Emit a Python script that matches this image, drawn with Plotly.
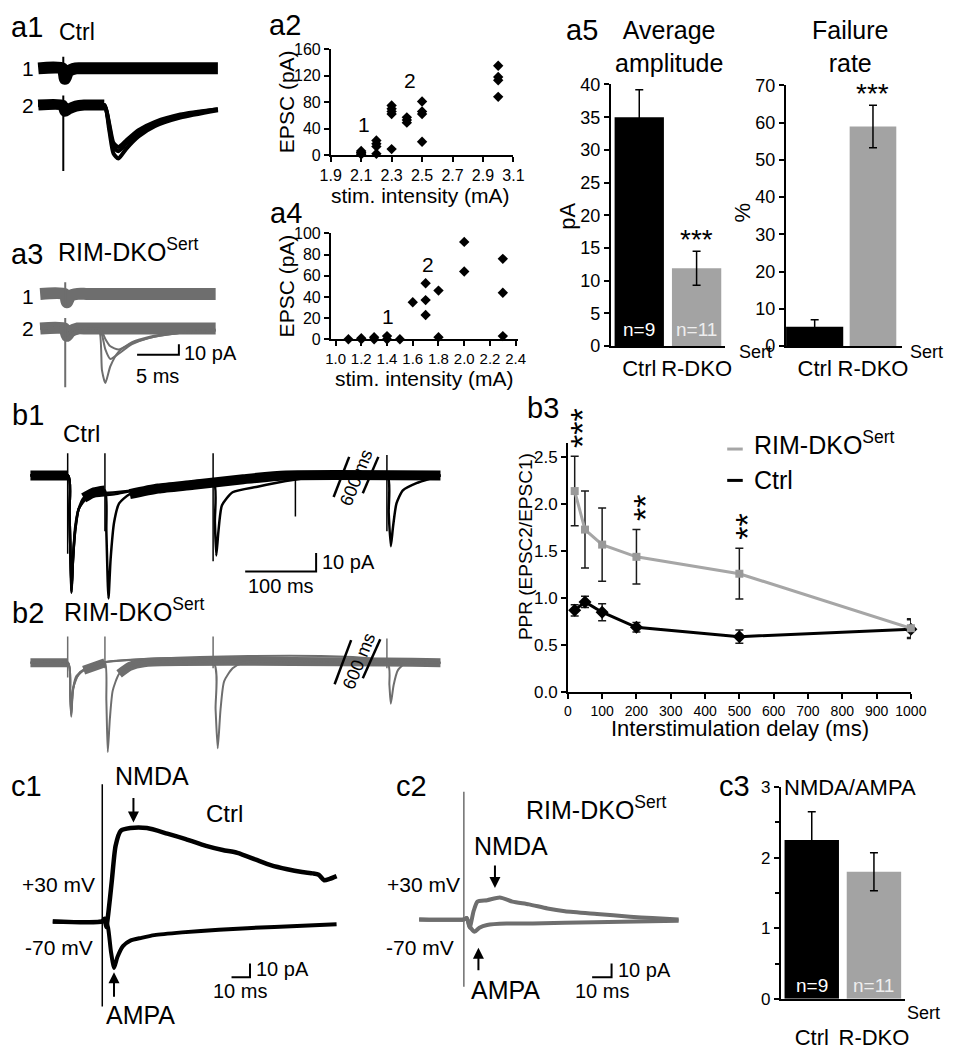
import plotly.graph_objects as go

W, H = 957, 1050
FONT = "Liberation Sans, Arial, Helvetica, sans-serif"
TRACE_GRAY = "#6e6e6e"
BAR_GRAY = "#a3a3a3"
LINE_GRAY = "#a6a6a6"

# ---------------- data ----------------
# a1 / a3 : example EPSCs at stimulus intensity 1 and 2 (ms, pA)
A1_T = [0, 2.9, 3.2, 3.6, 4.5, 5.5, 7.9, 8.5, 9.0, 9.6, 10.5, 12.0, 14.0, 17.0, 21.5]
A1_TRACE1 = [0, 0, -10, -3, 0, 0, 0, 0, 0, 0, 0, 0, 0, 0, 0]
A1_TRACE2 = [
    [0, 0, -6, -4, -1, 0, 0, -24, -46, -51, -42, -30, -20, -12, -5],
    [0, 0, -6, -4, -1, 0, 0, -20, -40, -44, -37, -27, -18, -10, -4],
    [0, 0, -6, -4, -1, 0, 0, -18, -36, -40, -34, -24, -16, -9, -4],
]
A1_ARTIFACTS = [(3.0, 11, -14), (3.0, 9, -63)]   # (t, top, bottom) for trace 1, 2

A3_T = [0, 2.9, 3.2, 3.6, 4.5, 5.5, 7.0, 7.4, 7.8, 8.4, 9.4, 11.0, 13.0, 16.0, 21.0]
A3_TRACE1 = [0, 0, -8, -2, 0, 0, 0, 0, 0, 0, 0, 0, 0, 0, 0]
A3_TRACE2 = [
    [0, 0, -7, -3, 0, 0, 0, 0, 0, 0, 0, 0, 0, 0, 0],
    [0, 0, -7, -3, 0, 0, 0, -40, -52, -36, -22, -13, -8, -4, -1],
    [0, 0, -7, -3, 0, 0, 0, -6, -20, -29, -24, -15, -9, -5, -2],
    [0, 0, -7, -3, 0, 0, 0, -3, -10, -17, -20, -14, -9, -5, -2],
]
A3_ARTIFACTS = [(3.0, 11, -12), (3.0, 10, -56)]

# a2 / a4 : input-output (stim intensity mA, EPSC pA)
A2_X = [2.1, 2.1, 2.1, 2.1, 2.2, 2.2, 2.2, 2.2, 2.3, 2.3, 2.3, 2.3, 2.3,
        2.4, 2.4, 2.4, 2.5, 2.5, 2.5, 2.5, 3.0, 3.0, 3.0, 3.0]
A2_Y = [6, 4, 3, 1, 22, 17, 13, 2, 75, 70, 66, 62, 9,
        57, 53, 49, 81, 66, 62, 20, 135, 118, 113, 88]
A2_TICKS = [1.9, 2.1, 2.3, 2.5, 2.7, 2.9, 3.1]

A4_X = [1.1, 1.1, 1.2, 1.2, 1.3, 1.3, 1.3, 1.4, 1.4, 1.4, 1.5, 1.5, 1.6, 1.6,
        1.7, 1.7, 1.7, 1.7, 1.8, 1.8, 1.8, 1.8, 2.0, 2.0, 2.0, 2.3, 2.3, 2.3]
A4_Y = [0, -2, 1, 0, 2, 0, -3, 3, 0, -6, 0, -2, 35, -2,
        53, 37, 23, -2, 46, 2, -1, -5, 92, 64, -2, 76, 44, 3]
A4_TICKS = [1.0, 1.2, 1.4, 1.6, 1.8, 2.0, 2.2, 2.4]

# a5 / c3 : bar summaries
GROUPS = ["Ctrl", "R-DKO"]
N_CELLS = [9, 11]
AMP_MEAN = [35.0, 11.9]
AMP_SEM = [4.2, 2.6]
FAIL_MEAN = [5.2, 59.0]
FAIL_SEM = [1.9, 5.7]
NMDA_AMPA_MEAN = [2.25, 1.80]
NMDA_AMPA_SEM = [0.40, 0.27]

# b1 / b2 : paired-pulse sweeps (display ms, pA)
B1_SWEEPS = [
    ([0, 53, 55, 58, 60, 63, 68, 75, 90, 105, 107, 110, 113, 118, 125, 140, 180, 230, 300, 360, 578],
     [0, 0, -20, -63, -45, -30, -18, -12, -9, -8, -30, -66, -45, -25, -15, -10, -7, -5, -2, 0, 0]),
    ([0, 53, 55, 58, 60, 63, 68, 80, 120, 160, 200, 258, 260, 262, 265, 270, 285, 320, 360, 420, 578],
     [0, 0, -20, -60, -45, -30, -18, -12, -10, -7, -5, -3, -25, -43, -30, -16, -9, -6, -3, 0, 0]),
    ([0, 53, 55, 58, 60, 63, 68, 80, 120, 200, 300, 440, 503, 505, 508, 511, 516, 525, 545, 578],
     [0, 0, -20, -62, -45, -28, -18, -11, -9, -6, -3, 0, 0, -20, -38, -28, -15, -8, -4, 0]),
]
B1_ARTIFACTS = [(52.5, 12, -42), (105, 12, -30), (257.5, 12, -46), (373.5, 0, -22), (502.5, 11, -30)]

B2_SWEEPS = [
    ([0, 53, 56, 57.5, 60, 65, 75, 90, 105, 107, 109, 112, 116, 125, 140, 160, 578],
     [0, 0, -18, -29, -15, -8, -4, -2, 0, -20, -48, -30, -15, -6, -2, 0, 0]),
    ([0, 53, 56, 57.5, 60, 65, 80, 100, 258, 261, 264, 268, 273, 285, 300, 578],
     [0, 0, -15, -27, -14, -7, -3, 0, 0, -25, -46, -25, -10, -3, 0, 0]),
    ([0, 53, 56, 57.5, 60, 70, 100, 503, 506, 508, 512, 518, 530, 578],
     [0, 0, -16, -28, -14, -5, 0, 0, -12, -22, -12, -4, 0, 0]),
]
B2_ARTIFACTS = [(52.5, 14, -8), (105, 14, -3), (257.5, 14, -3), (502.5, 13, -3)]

# b3 : paired-pulse ratio
DELAYS = [20, 50, 100, 200, 500, 1000]
PPR_RIM = [2.14, 1.73, 1.57, 1.44, 1.26, 0.68]
PPR_RIM_SEM = [0.37, 0.41, 0.39, 0.29, 0.27, 0.10]
PPR_CTRL = [0.87, 0.96, 0.85, 0.69, 0.59, 0.67]
PPR_CTRL_SEM = [0.06, 0.06, 0.09, 0.05, 0.07, 0.10]
STAR_IDX = [0, 3, 4]
STAR_COUNT = [3, 2, 2]

# c1 / c2 : NMDA and AMPA currents (ms, pA)
C1_T_POS = [0, 26.8, 28, 29, 30, 32, 34, 36.8, 42, 51, 62, 72, 83, 92, 100, 110,
            118, 127, 135, 141, 144, 147, 150, 153.7]
C1_POS = [0, 0, 2, -4, 5, 30, 55, 66, 68, 68, 64, 60, 55, 52, 50, 45,
          41, 38, 36, 35, 34, 30, 31, 33]
C1_T_NEG = [0, 26.8, 28.5, 30, 31.5, 33.2, 35, 38, 42, 48, 55, 70, 90, 120, 153.7]
C1_NEG = [0, 0, 2, -5, -22, -34, -26, -18, -14, -12, -10, -8, -6, -4, -2]
C1_ARTIFACT = (26.8, 100, -62)

C2_T_POS = [0, 23, 24.5, 26, 28, 30, 35, 41.5, 48, 56.5, 66, 75, 91.5, 108.5, 120, 133.5]
C2_POS = [0, 0, 1, -6, 6, 13, 14, 16, 13, 11, 8, 6, 4, 2, 1, 0]
C2_T_NEG = [0, 23, 24.5, 26, 28.5, 31, 35, 45, 58.5, 90, 133.5]
C2_NEG = [0, 0, 1, -5, -9, -6, -4, -3, -3, -2, -1]
C2_ARTIFACT = (23, 93, -49)

# ---------------- helpers ----------------
fig = go.Figure()
layout = {}
annotations = []
shapes = []


def names(i):
    s = "" if i == 1 else str(i)
    return "xaxis" + s, "yaxis" + s, "x" + s, "y" + s


def trace_panel(i, box, origin, scale):
    """hidden axes for raw traces; origin = pixel of t=0 and of 0 pA"""
    x0, x1, top, bottom = box
    t0, base = origin
    ppms, pppa = scale
    xa, ya, xr, yr = names(i)
    layout[xa] = dict(domain=[x0 / W, x1 / W], range=[(x0 - t0) / ppms, (x1 - t0) / ppms],
                      visible=False, anchor=yr, fixedrange=True)
    layout[ya] = dict(domain=[1 - bottom / H, 1 - top / H],
                      range=[(base - bottom) / pppa, (base - top) / pppa],
                      visible=False, anchor=xr, fixedrange=True)
    return xr, yr


def plot_panel(i, box, xkw, ykw):
    x0, x1, top, bottom = box
    xa, ya, xr, yr = names(i)
    base = dict(showline=True, linecolor="black", linewidth=1.5, ticks="outside",
                tickcolor="black", tickwidth=1.5, ticklen=5, showgrid=False,
                zeroline=False, fixedrange=True, tickangle=0,
                tickfont=dict(family=FONT, size=16, color="black"))
    layout[xa] = {**base, "domain": [x0 / W, x1 / W], "anchor": yr, **xkw}
    layout[ya] = {**base, "domain": [1 - bottom / H, 1 - top / H], "anchor": xr, **ykw}
    return xr, yr


def line(ax, t, y, color, width, offset=0, shape="spline"):
    fig.add_trace(go.Scatter(x=t, y=[None if v is None else v + offset for v in y],
                             mode="lines", connectgaps=False,
                             line=dict(color=color, width=width, shape=shape, smoothing=0.6),
                             xaxis=ax[0], yaxis=ax[1], hoverinfo="skip"))


def band(ax, t, y, color, width, floor, offset=0):
    # thick noise band drawn only where the sweep stays near its baseline
    line(ax, t, [v if v >= floor else None for v in y], color, width, offset)


def artifact(ax, art, color, offset=0, width=1.5):
    t, top, bottom = art
    line(ax, [t, t], [top, bottom], color, width, offset, shape="linear")


def scale_bar(ax, t0, y0, ms, pa, color="black"):
    line(ax, [t0, t0 + ms, t0 + ms], [y0, y0, y0 + pa], color, 2, shape="linear")


def text(s, x, y, size=24, xanchor="center", yanchor="middle", color="black", angle=0):
    annotations.append(dict(text=s, x=x / W, y=1 - y / H, xref="paper", yref="paper",
                            xanchor=xanchor, yanchor=yanchor, showarrow=False,
                            textangle=angle, font=dict(family=FONT, size=size, color=color)))


def data_text(ax, s, x, y, yshift, size=26, color="black", angle=0, xshift=0):
    annotations.append(dict(text=s, x=x, y=y, xref=ax[0], yref=ax[1], yshift=yshift,
                            xshift=xshift, textangle=angle,
                            xanchor="center", yanchor="middle", showarrow=False,
                            font=dict(family=FONT, size=size, color=color)))


def n_labels(ax, lift):
    for g, n, c in zip(GROUPS, N_CELLS, ["white", "#eeeeee"]):
        annotations.append(dict(text=f"n={n}", x=g, y=0, xref=ax[0], yref=ax[1],
                                yanchor="bottom", yshift=lift, showarrow=False,
                                font=dict(family=FONT, size=19, color=c)))


def arrow(x, y_tail, y_head):
    annotations.append(dict(text="", x=x / W, y=1 - y_head / H, ax=0, ay=y_tail - y_head,
                            xref="paper", yref="paper", axref="pixel", ayref="pixel",
                            showarrow=True, arrowhead=2, arrowsize=1.1, arrowwidth=2,
                            arrowcolor="black"))


def seg(x0, y0, x1, y1, color="black", width=2.5):
    shapes.append(dict(type="line", xref="paper", yref="paper", x0=x0 / W, y0=1 - y0 / H,
                       x1=x1 / W, y1=1 - y1 / H, line=dict(color=color, width=width)))


PANEL = 29

# ---------------- a1 ----------------
ax = trace_panel(1, (20, 222, 35, 170), (28, 97), (8.6, 1.07))
band(ax, A1_T, A1_TRACE1, "black", 12, -100, offset=35)
band(ax, A1_T, A1_TRACE2[0], "black", 11, -8)
for sw in A1_TRACE2:
    line(ax, A1_T, sw, "black", 4)
artifact(ax, A1_ARTIFACTS[0], "black", offset=35, width=2)
artifact(ax, A1_ARTIFACTS[1], "black", width=2)
text("a1", 16, 17, PANEL)
text("Ctrl", 68, 22, 23)
text("1", 17, 60, 21)
text("2", 17, 97, 21)

# ---------------- a3 ----------------
ax = trace_panel(2, (20, 222, 265, 400), (30, 325), (8.6, 1.07))
band(ax, A3_T, A3_TRACE1, TRACE_GRAY, 12, -100, offset=33)
band(ax, A3_T, A3_TRACE2[0], TRACE_GRAY, 12, -100)
for sw in A3_TRACE2[1:]:
    line(ax, A3_T, sw, TRACE_GRAY, 2)
artifact(ax, A3_ARTIFACTS[0], TRACE_GRAY, offset=33, width=2)
artifact(ax, A3_ARTIFACTS[1], TRACE_GRAY, width=2)
scale_bar(ax, 11.6, -25, 5, 10)
text("a3", 16, 249, PANEL)
text("RIM-DKO<sup>Sert</sup>", 46, 245, 25, xanchor="left")
text("1", 17, 292, 21)
text("2", 17, 325, 21)
text("10 pA", 176, 350, 20, xanchor="left")
text("5 ms", 151, 373, 20)

# ---------------- a2 ----------------
ax = plot_panel(3, (329, 517, 40, 148),
                dict(range=[1.9, 3.1], tickvals=A2_TICKS, tickformat=".1f"),
                dict(range=[0, 160], dtick=40))
fig.add_trace(go.Scatter(x=A2_X, y=A2_Y, mode="markers", xaxis=ax[0], yaxis=ax[1],
                         marker=dict(symbol="diamond", size=8, color="black"),
                         cliponaxis=False, hoverinfo="skip"))
text("a2", 282, 15, PANEL)
text("1", 363, 117, 21)
text("2", 411, 72, 21)
text("EPSC (pA)", 283, 94, 21, angle=-90)
text("stim. intensity (mA)", 421, 189, 21)

# ---------------- a4 ----------------
ax = plot_panel(4, (329, 522, 228, 336),
                dict(range=[0.9625, 2.42], tickvals=A4_TICKS, tickformat=".1f",
                     tickfont=dict(family=FONT, size=15, color="black")),
                dict(range=[0, 100], dtick=20))
fig.add_trace(go.Scatter(x=A4_X, y=A4_Y, mode="markers", xaxis=ax[0], yaxis=ax[1],
                         marker=dict(symbol="diamond", size=8, color="black"),
                         cliponaxis=False, hoverinfo="skip"))
text("a4", 283, 207, PANEL)
text("1", 388, 313, 21)
text("2", 429, 260, 21)
text("EPSC (pA)", 283, 282, 21, angle=-90)
text("stim. intensity (mA)", 425, 376, 21)

# ---------------- a5 ----------------
bar_err = dict(type="data", color="black", thickness=1.5, width=4)
xcat = dict(range=[-0.5, 1.5], ticks="", ticklen=0, ticklabelstandoff=2,
            tickfont=dict(family=FONT, size=22, color="black"))

ax = plot_panel(5, (617, 735, 76, 343), xcat,
                dict(range=[0, 40], dtick=5, tickfont=dict(family=FONT, size=18, color="black")))
fig.add_trace(go.Bar(x=GROUPS, y=AMP_MEAN, width=0.86, xaxis=ax[0], yaxis=ax[1],
                     marker=dict(color=["black", BAR_GRAY], line_width=0),
                     error_y=dict(array=AMP_SEM, **bar_err), hoverinfo="skip"))
data_text(ax, "***", GROUPS[1], AMP_MEAN[1] + AMP_SEM[1], 12, 28)
n_labels(ax, 4)
text("a5", 588, 20, PANEL)
text("Average<br>amplitude", 677, 37, 25)
text("pA", 573, 210, 22, angle=-90)
text("Sert", 766, 349, 18)

ax = plot_panel(6, (797, 917, 77, 343), {**xcat},
                dict(range=[0, 70], dtick=10, tickfont=dict(family=FONT, size=18, color="black")))
fig.add_trace(go.Bar(x=GROUPS, y=FAIL_MEAN, width=[0.98, 0.8], xaxis=ax[0], yaxis=ax[1],
                     marker=dict(color=["black", BAR_GRAY], line_width=0),
                     error_y=dict(array=FAIL_SEM, **bar_err), hoverinfo="skip"))
data_text(ax, "***", GROUPS[1], FAIL_MEAN[1] + FAIL_SEM[1], 12, 28)
text("Failure<br>rate", 863, 37, 25)
text("%", 753, 207, 22, angle=-90)
text("Sert", 942, 349, 18)

# ---------------- b1 ----------------
ax = trace_panel(7, (15, 447, 440, 610), (20, 475), (0.73, 1.9))
band(ax, *B1_SWEEPS[0], "black", 10, -13)
for t, y in B1_SWEEPS:
    line(ax, t, y, "black", 2.5)
for art in B1_ARTIFACTS:
    artifact(ax, art, "black")
scale_bar(ax, 302.7, -51.6, 100, 10)
seg(332, 497, 348, 456)
seg(362, 493, 378, 456)
text("600 ms", 356, 477, 18, angle=-68)
text("b1", 17, 413, PANEL)
text("Ctrl", 73, 432, 24)
text("10 pA", 318, 563, 20, xanchor="left")
text("100 ms", 278, 588, 20)

# ---------------- b2 ----------------
ax = trace_panel(8, (15, 447, 630, 770), (20, 666), (0.73, 1.9))
band(ax, *B2_SWEEPS[0], TRACE_GRAY, 9, -6)
for t, y in B2_SWEEPS:
    line(ax, t, y, TRACE_GRAY, 2)
for art in B2_ARTIFACTS:
    artifact(ax, art, TRACE_GRAY)
seg(333, 688, 350, 643)
seg(362, 682, 380, 642)
text("600 ms", 358, 664, 18, angle=-68)
text("b2", 17, 615, PANEL)
text("RIM-DKO<sup>Sert</sup>", 52, 612, 25, xanchor="left")

# ---------------- b3 ----------------
ax = plot_panel(9, (573, 926, 442, 696),
                dict(range=[0, 1000], dtick=100,
                     tickfont=dict(family=FONT, size=14, color="black")),
                dict(range=[0, 2.65], dtick=0.5, tickformat=".1f",
                     tickfont=dict(family=FONT, size=17, color="black")))
pt_err = dict(type="data", color="#1a1a1a", thickness=1.5, width=4)
fig.add_trace(go.Scatter(x=DELAYS, y=PPR_CTRL, mode="lines+markers", xaxis=ax[0], yaxis=ax[1],
                         line=dict(color="black", width=3),
                         marker=dict(symbol="diamond", size=10, color="black"),
                         error_y=dict(array=PPR_CTRL_SEM, **pt_err),
                         cliponaxis=False, hoverinfo="skip"))
fig.add_trace(go.Scatter(x=DELAYS, y=PPR_RIM, mode="lines+markers", xaxis=ax[0], yaxis=ax[1],
                         line=dict(color=LINE_GRAY, width=3),
                         marker=dict(symbol="square", size=8, color="#999999"),
                         error_y=dict(array=PPR_RIM_SEM, **pt_err),
                         cliponaxis=False, hoverinfo="skip"))
# stacked significance stars: one rotated string per point
for i, n in zip(STAR_IDX, STAR_COUNT):
    top = PPR_RIM[i] + PPR_RIM_SEM[i]
    data_text(ax, "*" * n, DELAYS[i], top, 10 + 6 * n, 34, angle=-90, xshift=8)
seg(737, 448, 753, 448, LINE_GRAY, 3)
seg(737, 480, 753, 480, "black", 3)
text("RIM-DKO<sup>Sert</sup>", 762, 442, 25, xanchor="left")
text("Ctrl", 762, 480, 25, xanchor="left")
text("b3", 547, 406, PANEL)
text("PPR (EPSC2/EPSC1)", 529, 548, 19, angle=-90)
text("Interstimulation delay (ms)", 750, 733, 22)

# ---------------- c1 ----------------
ax = trace_panel(10, (35, 345, 780, 1025), (43, 930), (1.9, 1.4))
line(ax, C1_T_POS, C1_POS, "black", 4.5)
line(ax, C1_T_NEG, C1_NEG, "black", 4)
artifact(ax, C1_ARTIFACT, "black")
scale_bar(ax, 96.8, -40.7, 10, 10)
text("c1", 16, 792, PANEL)
text("NMDA", 145, 782, 25)
arrow(126, 803, 829)
text("Ctrl", 220, 820, 24)
text("+30 mV", 49, 892, 21)
text("-70 mV", 49, 957, 21)
arrow(106, 1008, 982)
text("AMPA", 133, 1025, 25)
text("10 pA", 250, 979, 20, xanchor="left")
text("10 ms", 236, 1001, 20)

# ---------------- c2 ----------------
ax = trace_panel(11, (410, 695, 790, 1005), (420, 928), (2.0, 1.4))
line(ax, C2_T_POS, C2_POS, TRACE_GRAY, 4)
line(ax, C2_T_NEG, C2_NEG, TRACE_GRAY, 4)
artifact(ax, C2_ARTIFACT, TRACE_GRAY)
scale_bar(ax, 89, -42.1, 10, 10)
text("c2", 412, 792, PANEL)
text("RIM-DKO<sup>Sert</sup>", 528, 814, 25, xanchor="left")
text("NMDA", 515, 853, 25)
arrow(498, 872, 896)
text("+30 mV", 424, 892, 21)
text("-70 mV", 421, 957, 21)
arrow(481, 981, 957)
text("AMPA", 509, 1000, 25)
text("10 pA", 623, 980, 20, xanchor="left")
text("10 ms", 608, 1001, 20)

# ---------------- c3 ----------------
ax = plot_panel(12, (792, 920, 793, 1009),
                {**xcat, "ticklabelstandoff": 18},
                dict(range=[0, 3], dtick=1,
                     minor=dict(dtick=0.5, ticks="outside", ticklen=4,
                                tickcolor="black", tickwidth=1.5, showgrid=False),
                     tickfont=dict(family=FONT, size=17, color="black")))
fig.add_trace(go.Bar(x=GROUPS, y=NMDA_AMPA_MEAN, width=0.875, xaxis=ax[0], yaxis=ax[1],
                     marker=dict(color=["black", BAR_GRAY], line_width=0),
                     error_y=dict(array=NMDA_AMPA_SEM, **bar_err), hoverinfo="skip"))
n_labels(ax, 1)
text("c3", 745, 792, PANEL)
text("NMDA/AMPA", 863, 793, 22)
text("Sert", 939, 1023, 18)

fig.update_layout(
    width=W, height=H,
    margin=dict(l=0, r=0, t=0, b=0),
    paper_bgcolor="white",
    plot_bgcolor="rgba(0,0,0,0)",
    showlegend=False,
    font=dict(family=FONT, color="black"),
    annotations=annotations,
    shapes=shapes,
    **layout,
)

# keep the figure flush with the page corner, no toolbar
fig.write_html("out.html", config={"displayModeBar": False},
               post_script="document.body.style.margin='0';")
